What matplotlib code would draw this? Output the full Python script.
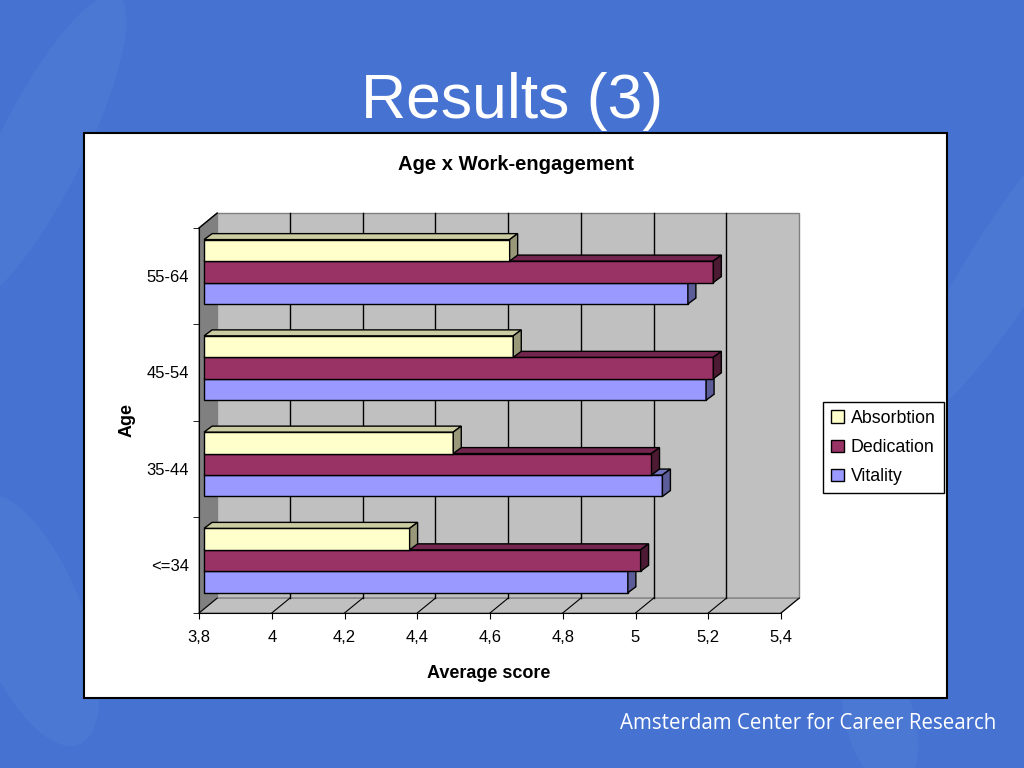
import matplotlib.pyplot as plt
from matplotlib.patches import Polygon, Rectangle, Patch, Ellipse
import numpy as np

plt.rcParams['font.family'] = ['Liberation Sans', 'DejaVu Sans']

# data
categories = ["<=34", "35-44", "45-54", "55-64"]
series = ["Absorbtion", "Dedication", "Vitality"]
absorbtion = [4.365, 4.485, 4.65, 4.64]
dedication = [5.00, 5.03, 5.20, 5.20]
vitality = [4.965, 5.06, 5.18, 5.13]
x_ticks = [3.8, 4.0, 4.2, 4.4, 4.6, 4.8, 5.0, 5.2, 5.4]
x_tick_labels = ["3,8", "4", "4,2", "4,4", "4,6", "4,8", "5", "5,2", "5,4"]

W, H = 1024, 768


def fx(px):
    return px / W


def fy(py):
    return 1 - py / H


fig = plt.figure(figsize=(10.24, 7.68), dpi=100)
fig.patch.set_facecolor("#4673D1")

# faint slide decoration
for cx, cy, w, h, ang in [(40, 150, 90, 330, -20), (1010, 260, 80, 360, -25),
                          (30, 620, 110, 260, 15), (880, 720, 70, 140, 10)]:
    fig.add_artist(Ellipse((fx(cx), fy(cy)), w / W, h / H, angle=ang,
                           transform=fig.transFigure, color="#5784D8",
                           alpha=0.3, lw=0, zorder=-3))

# slide title and footer
fig.text(0.5, fy(118), "Results (3)", color="white", fontsize=45,
         ha="center", va="baseline")
fig.text(fx(996), fy(729), "Amsterdam Center for Career Research",
         color="white", fontsize=14.8, ha="right", va="baseline",
         family=["Open Sans", "DejaVu Sans"])

# white chart box
fig.add_artist(Rectangle((fx(84), fy(698)), 863 / W, 565 / H,
                         transform=fig.transFigure, facecolor="white",
                         edgecolor="black", lw=1.5, zorder=-1))

ax = fig.add_axes([fx(199), fy(613), 582 / W, 385 / H])
ax.set_facecolor("none")
x0, x1 = 3.8, 5.4
y0, y1 = -0.5, 3.5
ax.set_xlim(x0, x1)
ax.set_ylim(y0, y1)

# 3d walls
DX, DY = 0.05, 0.155
ax.add_patch(Polygon([(x0 + DX, y0 + DY), (x1 + DX, y0 + DY), (x1 + DX, y1 + DY), (x0 + DX, y1 + DY)],
                     fc="#C0C0C0", ec="#808080", lw=1, clip_on=False, zorder=0.5))
ax.add_patch(Polygon([(x0, y0), (x0 + DX, y0 + DY), (x0 + DX, y1 + DY), (x0, y1)],
                     fc="#808080", ec="#808080", lw=1, clip_on=False, zorder=0.5))
ax.add_patch(Polygon([(x0, y0), (x1, y0), (x1 + DX, y0 + DY), (x0 + DX, y0 + DY)],
                     fc="#C0C0C0", ec="#808080", lw=1, clip_on=False, zorder=0.5))
for t in x_ticks[1:-1]:
    ax.plot([t + DX, t + DX], [y0 + DY, y1 + DY], color="black", lw=1,
            zorder=0.6, clip_on=False)
for t in x_ticks:
    ax.plot([t, t + DX], [y0, y0 + DY], color="black", lw=0.8,
            zorder=0.6, clip_on=False)
ax.plot([x0, x0 + DX], [y1, y1 + DY], color="black", lw=1, zorder=0.6, clip_on=False)

# bars with fake depth
bh = 0.223
bx, by = 0.014, 0.045
bdx, bdy = 0.022, 0.062
styles = [
    (vitality, -bh, "#9999FF", "#7373BF", "#5C5C99", 2),
    (dedication, 0.0, "#993366", "#73264D", "#4D1A33", 3),
    (absorbtion, bh, "#FFFFCC", "#CCCCA3", "#99997A", 4),
]
for vals, off, front, topc, sidec, z in styles:
    ys = np.arange(len(categories)) + off + by
    vals = np.array(vals)
    ax.barh(ys, vals - x0, left=x0 + bx, height=bh, color=front,
            edgecolor="black", lw=1, zorder=z)
    for y, v in zip(ys, vals):
        xe = v + bx
        yt, yb = y + bh / 2, y - bh / 2
        ax.add_patch(Polygon([(x0 + bx, yt), (xe, yt), (xe + bdx, yt + bdy), (x0 + bx + bdx, yt + bdy)],
                             fc=topc, ec="black", lw=1, zorder=z, clip_on=False))
        ax.add_patch(Polygon([(xe, yb), (xe + bdx, yb + bdy), (xe + bdx, yt + bdy), (xe, yt)],
                             fc=sidec, ec="black", lw=1, zorder=z, clip_on=False))

# axes
for s in ["top", "right"]:
    ax.spines[s].set_visible(False)
for s in ["bottom", "left"]:
    ax.spines[s].set_color("black")
    ax.spines[s].set_zorder(5)
ax.set_xticks(x_ticks)
ax.set_xticklabels(x_tick_labels, fontsize=12)
ax.set_yticks(range(len(categories)))
ax.set_yticklabels(categories, fontsize=12)
ax.set_yticks([-0.5, 0.5, 1.5, 2.5, 3.5], minor=True)
ax.tick_params(axis="y", which="major", length=0, pad=7)
ax.tick_params(axis="y", which="minor", length=4, direction="out")
ax.tick_params(axis="x", length=4, direction="out", pad=8)

fig.text(fx(516), fy(165), "Age x Work-engagement", fontsize=14.5,
         fontweight="bold", ha="center", va="center")
fig.text(fx(489), fy(673), "Average score", fontsize=13,
         fontweight="bold", ha="center", va="center")
fig.text(fx(127), fy(420), "Age", fontsize=13, fontweight="bold",
         ha="center", va="center", rotation=90)

handles = [Patch(fc=c, ec="black", lw=1) for c in ["#FFFFCC", "#993366", "#9999FF"]]
leg = fig.legend(handles, series, loc="center",
                 bbox_to_anchor=(fx(883.5), fy(447.5)), frameon=True,
                 fancybox=False, edgecolor="black", framealpha=1,
                 fontsize=12.8, handlelength=0.7, handleheight=0.7,
                 handletextpad=0.4, borderpad=0.45, labelspacing=0.7,
                 borderaxespad=0)
leg.get_frame().set_linewidth(1)

fig.savefig("out.png", dpi=100, facecolor=fig.get_facecolor())
